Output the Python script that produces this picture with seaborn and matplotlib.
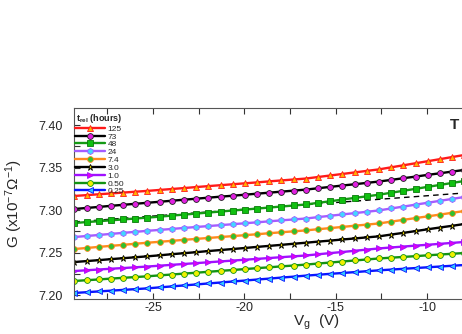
import matplotlib
matplotlib.use("Agg")
import matplotlib.pyplot as plt
import seaborn as sns
import pandas as pd
from matplotlib.ticker import MultipleLocator, FormatStrFormatter

# ---------------- data ----------------
vg = [-29.3, -28.63, -27.97, -27.3, -26.63, -25.97, -25.3, -24.63, -23.97, -23.3,
      -22.63, -21.97, -21.3, -20.63, -19.97, -19.3, -18.63, -17.97, -17.3, -16.63,
      -15.97, -15.3, -14.63, -13.97, -13.3, -12.63, -11.97, -11.3, -10.63, -9.97,
      -9.3, -8.63, -7.97]

g_125 = [7.3165, 7.3175, 7.3185, 7.3195, 7.3205, 7.3215, 7.3225, 7.3236, 7.3247, 7.3258,
         7.3270, 7.3281, 7.3292, 7.3303, 7.3314, 7.3325, 7.3337, 7.3348, 7.3359, 7.3370,
         7.3388, 7.3406, 7.3424, 7.3442, 7.3460, 7.3478, 7.3502, 7.3526, 7.3550, 7.3574,
         7.3598, 7.3623, 7.3647]
g_73 = [7.3012, 7.3024, 7.3036, 7.3049, 7.3061, 7.3073, 7.3085, 7.3097, 7.3109, 7.3121,
        7.3133, 7.3145, 7.3157, 7.3168, 7.3180, 7.3192, 7.3204, 7.3216, 7.3228, 7.3240,
        7.3256, 7.3272, 7.3288, 7.3303, 7.3319, 7.3335, 7.3354, 7.3374, 7.3393, 7.3413,
        7.3432, 7.3452, 7.3471]
g_48 = [7.2847, 7.2858, 7.2868, 7.2879, 7.2889, 7.2900, 7.2910, 7.2922, 7.2934, 7.2946,
        7.2958, 7.2970, 7.2982, 7.2994, 7.3005, 7.3017, 7.3029, 7.3041, 7.3053, 7.3065,
        7.3084, 7.3103, 7.3123, 7.3142, 7.3161, 7.3180, 7.3203, 7.3226, 7.3249, 7.3272,
        7.3295, 7.3318, 7.3341]
g_24 = [7.2682, 7.2694, 7.2706, 7.2719, 7.2731, 7.2743, 7.2755, 7.2766, 7.2777, 7.2789,
        7.2800, 7.2811, 7.2822, 7.2833, 7.2844, 7.2855, 7.2867, 7.2878, 7.2889, 7.2900,
        7.2916, 7.2932, 7.2948, 7.2963, 7.2979, 7.2995, 7.3018, 7.3040, 7.3063, 7.3085,
        7.3108, 7.3130, 7.3153]
g_7p4 = [7.2541, 7.2553, 7.2566, 7.2578, 7.2590, 7.2603, 7.2615, 7.2626, 7.2637, 7.2649,
         7.2660, 7.2671, 7.2682, 7.2693, 7.2704, 7.2715, 7.2727, 7.2738, 7.2749, 7.2760,
         7.2774, 7.2787, 7.2801, 7.2815, 7.2828, 7.2842, 7.2863, 7.2884, 7.2905, 7.2925,
         7.2946, 7.2967, 7.2988]
g_3p0 = [7.2388, 7.2399, 7.2410, 7.2422, 7.2433, 7.2444, 7.2455, 7.2467, 7.2480, 7.2492,
         7.2504, 7.2517, 7.2529, 7.2541, 7.2553, 7.2566, 7.2578, 7.2590, 7.2603, 7.2615,
         7.2628, 7.2640, 7.2653, 7.2665, 7.2678, 7.2690, 7.2711, 7.2731, 7.2752, 7.2773,
         7.2794, 7.2814, 7.2835]
g_1p0 = [7.2282, 7.2291, 7.2300, 7.2309, 7.2317, 7.2326, 7.2335, 7.2345, 7.2355, 7.2365,
         7.2375, 7.2385, 7.2395, 7.2405, 7.2415, 7.2425, 7.2435, 7.2445, 7.2455, 7.2465,
         7.2479, 7.2493, 7.2506, 7.2520, 7.2534, 7.2548, 7.2559, 7.2570, 7.2581, 7.2591,
         7.2602, 7.2613, 7.2624]
g_0p50 = [7.2165, 7.2174, 7.2183, 7.2193, 7.2202, 7.2211, 7.2220, 7.2231, 7.2241, 7.2252,
          7.2262, 7.2273, 7.2284, 7.2294, 7.2305, 7.2316, 7.2326, 7.2337, 7.2347, 7.2358,
          7.2370, 7.2382, 7.2394, 7.2406, 7.2418, 7.2430, 7.2439, 7.2448, 7.2457, 7.2467,
          7.2476, 7.2485, 7.2494]
g_0p25 = [7.2024, 7.2033, 7.2042, 7.2051, 7.2060, 7.2069, 7.2078, 7.2090, 7.2101, 7.2113,
          7.2124, 7.2136, 7.2147, 7.2159, 7.2170, 7.2182, 7.2193, 7.2205, 7.2216, 7.2228,
          7.2238, 7.2249, 7.2259, 7.2269, 7.2280, 7.2290, 7.2299, 7.2308, 7.2317, 7.2326,
          7.2335, 7.2344, 7.2353]

fit_vg = [-29.3, -7.97]
fit_g = [7.2860, 7.3200]

labels = ["125", "73", "48", "24", "7.4", "3.0", "1.0", "0.50", "0.25"]
series = [g_125, g_73, g_48, g_24, g_7p4, g_3p0, g_1p0, g_0p50, g_0p25]

# ---------------- style ----------------
styles = [
    dict(color="#ff1a1a", marker="^", mfc="#ffb000", mec="#ff1a1a", ms=4.2),
    dict(color="#000000", marker="o", mfc="#e020e0", mec="#202020", ms=4.2),
    dict(color="#159a15", marker="s", mfc="#10c010", mec="#0a7a0a", ms=3.8),
    dict(color="#a55cff", marker="h", mfc="#40d8ff", mec="#a55cff", ms=4.4),
    dict(color="#ff8a1e", marker="o", mfc="#30c030", mec="#ff8a1e", ms=4.2),
    dict(color="#000000", marker="*", mfc="#e0d000", mec="#000000", ms=5.0),
    dict(color="#a010ff", marker=">", mfc="#e000f0", mec="#a010ff", ms=4.2),
    dict(color="#139313", marker="o", mfc="#f0f000", mec="#139313", ms=4.2),
    dict(color="#0a14ff", marker="<", mfc="#30c8ff", mec="#0a14ff", ms=4.2),
]

sns.set_style("ticks")
plt.rcParams["font.family"] = ["Liberation Sans", "DejaVu Sans"]
plt.rcParams["axes.unicode_minus"] = False
plt.rcParams["mathtext.fontset"] = "custom"
plt.rcParams["mathtext.rm"] = "Liberation Sans"
plt.rcParams["mathtext.it"] = "Liberation Sans"
plt.rcParams["mathtext.bf"] = "Liberation Sans:bold"

fig = plt.figure(figsize=(4.62, 3.34), dpi=100)
ax = fig.add_axes([74 / 462, 1 - 299 / 334, 396 / 462, 191 / 334])

sns.lineplot(x=fit_vg, y=fit_g, ax=ax, color="black", lw=1.0,
             linestyle=(0, (4, 3)), zorder=1)

for lab, g, st in zip(labels, series, styles):
    df = pd.DataFrame({"Vg": vg, "G": g})
    sns.lineplot(data=df, x="Vg", y="G", ax=ax, color=st["color"], lw=1.7,
                 marker=st["marker"], markersize=st["ms"],
                 markerfacecolor=st["mfc"], markeredgecolor=st["mec"],
                 markeredgewidth=0.6, label=lab, zorder=2)

ax.set_xlim(-29.32, -7.65)
ax.set_ylim(7.1953, 7.42)

ax.xaxis.set_major_locator(MultipleLocator(5))
ax.xaxis.set_minor_locator(MultipleLocator(2.5))
ax.yaxis.set_major_locator(MultipleLocator(0.05))
ax.yaxis.set_minor_locator(MultipleLocator(0.025))
ax.yaxis.set_major_formatter(FormatStrFormatter("%.2f"))
ax.xaxis.set_major_formatter(FormatStrFormatter("%d"))
ax.tick_params(which="both", direction="in", top=True, right=False,
               color="#333333", width=0.8)
ax.tick_params(which="major", length=4, labelsize=9)
ax.tick_params(axis="x", which="major", pad=2)
ax.tick_params(axis="y", which="major", pad=8)
ax.tick_params(which="minor", length=4)

for s in ["left", "top", "bottom"]:
    ax.spines[s].set_color("#555555")
    ax.spines[s].set_linewidth(0.8)
ax.spines["right"].set_visible(False)

ax.set_xlabel("V$_\\mathregular{g}$  (V)", fontsize=11)
ax.xaxis.label.set_va("baseline")
ax.xaxis.set_label_coords((316 - 74) / 396, (299 - 326) / 191)
ax.set_ylabel("G (x10$^{\\mathregular{-7}}$Ω$^{\\mathregular{-1}}$)", fontsize=11, labelpad=10)

leg = ax.legend(title="t$_{\\mathregular{rel}}$ (hours)", loc="upper left",
                bbox_to_anchor=(-0.005, 0.995), frameon=False, fontsize=6,
                title_fontproperties={"weight": "bold", "size": 6.5},
                handlelength=3.6, handletextpad=0.3, labelspacing=0.0,
                borderpad=0.25, borderaxespad=0.1)

fig.text(450 / 462, 1 - 125 / 334, "T", fontsize=11, fontweight="bold",
         ha="left", va="center")

fig.savefig("out.png", dpi=100)
